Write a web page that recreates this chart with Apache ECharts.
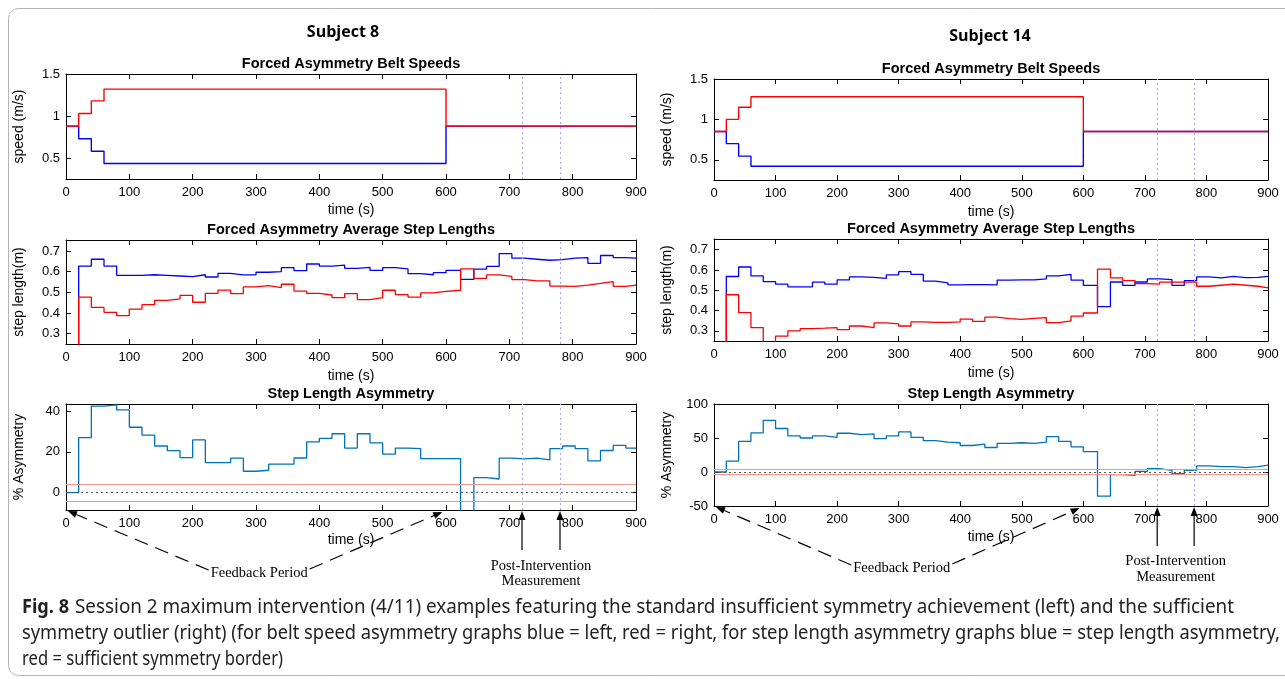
<!DOCTYPE html>
<html>
<head>
<meta charset="utf-8">
<script src="https://cdn.jsdelivr.net/npm/echarts@6/dist/echarts.min.js"></script>
<style>
  html, body { margin: 0; padding: 0; background: #fff; }
  #chart { width: 1285px; height: 679px; }
</style>
</head>
<body>
<div id="chart"></div>
<script>
// start time (s) of each averaged step segment
const segStart = [0, 20, 40, 60, 80, 100, 120, 140, 160, 180, 200, 220, 240, 260, 280, 300,
  320, 340, 360, 380, 400, 420, 440, 460, 480, 500, 520, 540, 560, 580, 600,
  623, 644, 664, 684, 704, 724, 744, 764, 784, 804, 824, 844, 864, 884]
const beltTime = [0, 20, 40, 60, 600]

// Subject 8
const s8BeltLeft = [0.88, 0.73, 0.58, 0.435, 0.88]
const s8BeltRight = [0.88, 1.03, 1.18, 1.32, 0.88]
const s8StepLeft = [0, 0.627, 0.66, 0.627, 0.582, 0.582, 0.585, 0.582, 0.579, 0.576, 0.585, 0.574,
  0.592, 0.584, 0.584, 0.597, 0.60, 0.619, 0.605, 0.637, 0.627, 0.631, 0.616, 0.621, 0.606, 0.619,
  0.613, 0.59, 0.585, 0.595, 0.606, 0.563, 0.612, 0.625, 0.687, 0.665, 0.66, 0.655, 0.658, 0.665,
  0.668, 0.64, 0.678, 0.668, 0.665]
const s8StepRight = [0, 0.477, 0.427, 0.403, 0.387, 0.419, 0.44, 0.461, 0.468, 0.485, 0.452, 0.495,
  0.511, 0.494, 0.526, 0.532, 0.523, 0.539, 0.506, 0.495, 0.487, 0.474, 0.494, 0.465, 0.474, 0.51,
  0.489, 0.477, 0.497, 0.505, 0.51, 0.613, 0.567, 0.584, 0.577, 0.561, 0.555, 0.555, 0.53, 0.529,
  0.535, 0.543, 0.552, 0.529, 0.535]
const s8Asym = [0, 27, 42.5, 43.1, 40.6, 32.1, 28.2, 22.9, 20.6, 17.2, 25.9, 14.7, 14.7, 16.9, 10.5,
  11, 14, 14, 17, 24.9, 26.6, 28.9, 21.9, 28.9, 24.4, 18.9, 21.9, 21.6, 16.7, 16.7, 16.7, -20, 7.4,
  6.7, 16.9, 16.6, 16.9, 16.1, 21.6, 22.9, 21.6, 15.6, 20.7, 23.2, 21.9]

// Subject 14
const s14BeltLeft = [0.85, 0.70, 0.545, 0.42, 0.85]
const s14BeltRight = [0.85, 1.0, 1.15, 1.28, 0.85]
const s14StepLeft = [0, 0.568, 0.615, 0.571, 0.543, 0.53, 0.517, 0.517, 0.54, 0.53, 0.551, 0.566,
  0.564, 0.559, 0.576, 0.592, 0.579, 0.545, 0.537, 0.527, 0.528, 0.528, 0.527, 0.55, 0.551, 0.551,
  0.556, 0.571, 0.579, 0.55, 0.524, 0.42, 0.541, 0.524, 0.541, 0.556, 0.553, 0.524, 0.548, 0.566,
  0.561, 0.569, 0.563, 0.564, 0.569]
const s14StepRight = [0, 0.478, 0.39, 0.316, 0.2, 0.274, 0.3, 0.311, 0.313, 0.316, 0.306, 0.324,
  0.316, 0.339, 0.334, 0.324, 0.344, 0.342, 0.342, 0.344, 0.358, 0.347, 0.368, 0.36, 0.357, 0.362,
  0.365, 0.341, 0.349, 0.373, 0.388, 0.604, 0.561, 0.548, 0.533, 0.53, 0.54, 0.54, 0.54, 0.52,
  0.525, 0.53, 0.525, 0.52, 0.512]
const s14Asym = [0, 16, 45, 57.6, 76, 64, 53, 50, 53, 51, 57, 55, 56, 49, 53, 59, 51, 46, 44, 43, 39,
  41, 36, 42, 43, 42, 44, 52, 45, 37, 30, -35.5, -4, -5, 1, 5, 2.5, -2.5, 2.5, 9, 8, 8, 6.5, 8, 10]

const measureTimes = [720, 780]
const symmetryBorder = 4

const FONT = '"Liberation Sans", Arial, sans-serif'
const SERIF = '"Liberation Serif", "Times New Roman", serif'

const panels = [
  { grid: { left: 66, top: 74, width: 570, height: 105 }, title: 'Forced Asymmetry Belt Speeds',
    yName: 'speed (m/s)', ymin: 0.25, ymax: 1.5, yticks: [0.5, 1, 1.5], nameGap: 24 },
  { grid: { left: 66, top: 240, width: 570, height: 104 }, title: 'Forced Asymmetry Average Step Lengths',
    yName: 'step length(m)', ymin: 0.25, ymax: 0.753, yticks: [0.3, 0.4, 0.5, 0.6, 0.7], nameGap: 25 },
  { grid: { left: 66, top: 404, width: 570, height: 106 }, title: 'Step Length Asymmetry',
    yName: '% Asymmetry', ymin: -8.5, ymax: 43.5, yticks: [0, 20, 40], nameGap: 23 },
  { grid: { left: 714, top: 79, width: 554, height: 101 }, title: 'Forced Asymmetry Belt Speeds',
    yName: 'speed (m/s)', ymin: 0.25, ymax: 1.5, yticks: [0.5, 1, 1.5], nameGap: 25 },
  { grid: { left: 714, top: 239, width: 554, height: 102 }, title: 'Forced Asymmetry Average Step Lengths',
    yName: 'step length(m)', ymin: 0.25, ymax: 0.753, yticks: [0.3, 0.4, 0.5, 0.6, 0.7], nameGap: 25 },
  { grid: { left: 714, top: 404, width: 554, height: 102 }, title: 'Step Length Asymmetry',
    yName: '% Asymmetry', ymin: -50, ymax: 100, yticks: [-50, 0, 50, 100], nameGap: 24 }
]

function stepData(times, vals) {
  const d = times.map((t, i) => [t, vals[i]])
  d.push([900, vals[vals.length - 1]])
  return d
}

const chart = echarts.init(document.getElementById('chart'))

const grids = [], xAxes = [], yAxes = [], series = []
const black = { color: '#000', width: 1 }

panels.forEach((p, gi) => {
  grids.push(Object.assign({ outerBoundsMode: 'none', containLabel: false }, p.grid))
  xAxes.push({
    gridIndex: gi, type: 'value', min: 0, max: 900, interval: 100, position: 'bottom',
    axisLine: { show: true, onZero: false, lineStyle: black },
    axisTick: { show: true, inside: true, length: 5, lineStyle: black },
    axisLabel: { color: '#000', fontSize: 13, fontFamily: FONT, margin: 7 },
    splitLine: { show: false },
    name: 'time (s)', nameLocation: 'middle', nameGap: p.nameGap,
    nameTextStyle: { color: '#000', fontSize: 14, fontFamily: FONT }
  })
  xAxes.push({
    gridIndex: gi, type: 'value', min: 0, max: 900, interval: 100, position: 'top',
    axisLine: { show: true, onZero: false, lineStyle: black },
    axisTick: { show: true, inside: true, length: 5, lineStyle: black },
    axisLabel: { show: false }, splitLine: { show: false }
  })
  yAxes.push({
    gridIndex: gi, type: 'value', min: p.ymin, max: p.ymax, position: 'left',
    axisLine: { show: true, onZero: false, lineStyle: black },
    axisTick: { show: true, inside: true, length: 5, lineStyle: black, customValues: p.yticks },
    axisLabel: { color: '#000', fontSize: 13, fontFamily: FONT, margin: 6, customValues: p.yticks },
    splitLine: { show: false },
    name: p.yName, nameLocation: 'middle', nameGap: 40, nameRotate: 90,
    nameTextStyle: { color: '#000', fontSize: 14, fontFamily: FONT }
  })
  yAxes.push({
    gridIndex: gi, type: 'value', min: p.ymin, max: p.ymax, position: 'right',
    axisLine: { show: true, onZero: false, lineStyle: black },
    axisTick: { show: true, inside: true, length: 5, lineStyle: black, customValues: p.yticks },
    axisLabel: { show: false }, splitLine: { show: false }
  })
})

const dotted = { color: '#a4a4f2', type: [2, 3], width: 1 }

const vLines = {
  silent: true, symbol: ['none', 'none'], label: { show: false },
  lineStyle: dotted,
  data: measureTimes.map(t => ({ xAxis: t }))
}

function line(gi, data, color, width, extra) {
  return Object.assign({
    type: 'line', xAxisIndex: gi * 2, yAxisIndex: gi * 2, data, step: 'end',
    showSymbol: false, symbol: 'none', silent: true,
    lineStyle: { color, width }, itemStyle: { color }
  }, extra || {})
}

function borderLines() {
  return {
    silent: true, symbol: ['none', 'none'], label: { show: false },
    data: [
      { yAxis: symmetryBorder, lineStyle: { color: '#f3968c', type: 'solid', width: 1.2 } },
      { yAxis: -symmetryBorder, lineStyle: { color: '#f3968c', type: 'solid', width: 1.2 } },
      { yAxis: 0, lineStyle: { color: '#555', type: [2, 3], width: 1 } },
      ...measureTimes.map(t => ({ xAxis: t, lineStyle: dotted }))
    ]
  }
}

const subjects = [
  { base: 0, beltL: s8BeltLeft, beltR: s8BeltRight, stepL: s8StepLeft, stepR: s8StepRight, asym: s8Asym },
  { base: 3, beltL: s14BeltLeft, beltR: s14BeltRight, stepL: s14StepLeft, stepR: s14StepRight, asym: s14Asym }
]

subjects.forEach(s => {
  series.push(line(s.base, stepData(beltTime, s.beltL), '#0000ff', 1.4, { markLine: vLines }))
  series.push(line(s.base, stepData(beltTime, s.beltR), '#ff0000', 1.4))
  series.push(line(s.base + 1, stepData(segStart, s.stepL), '#0000ff', 1.3, { markLine: vLines }))
  series.push(line(s.base + 1, stepData(segStart, s.stepR), '#ff0000', 1.3))
  series.push(line(s.base + 2, stepData(segStart, s.asym), '#0072bd', 1.3, { markLine: borderLines() }))
})

chart.setOption({
  animation: false,
  backgroundColor: '#fff',
  grid: grids, xAxis: xAxes, yAxis: yAxes, series
})

// ---- annotations, titles and caption ----
const ctx = document.createElement('canvas').getContext('2d')
function textW(text, font) { ctx.font = font; return ctx.measureText(text).width }
function txt(text, x, y, font, align, fill) {
  return { type: 'text', x, y, silent: true,
    style: { text, x: 0, y: 0, font, fill: fill || '#000', align: align || 'center', verticalAlign: 'middle' } }
}
function fitText(text, x, y, font, width, fill) {
  const w = textW(text, font)
  const el = txt(text, x, y, font, 'left', fill)
  el.scaleX = width / w
  return el
}
function arrow(x1, y1, x2, y2, dashed) {
  const a = Math.atan2(y2 - y1, x2 - x1)
  const L = 9, W = 3.5
  const bx = x2 - L * Math.cos(a), by = y2 - L * Math.sin(a)
  return [
    { type: 'line', silent: true, shape: { x1, y1, x2: bx, y2: by },
      style: { stroke: '#000', lineWidth: 1.2, lineDash: dashed ? [14, 8] : null } },
    { type: 'polygon', silent: true,
      shape: { points: [[x2, y2], [bx - W * Math.sin(a), by + W * Math.cos(a)], [bx + W * Math.sin(a), by - W * Math.cos(a)]] },
      style: { fill: '#000' } }
  ]
}

const g = []
g.push({ type: 'rect', silent: true, shape: { x: 8.5, y: 8.5, width: 1300, height: 667, r: 10 },
  style: { fill: null, stroke: '#b4b4b4', lineWidth: 1 } })
g.push(txt('Subject 8', 343, 32, 'bold 16px "Open Sans", sans-serif'))
g.push(txt('Subject 14', 990, 36, 'bold 16px "Open Sans", sans-serif'))

panels.forEach(p => {
  g.push(txt(p.title, p.grid.left + p.grid.width / 2, p.grid.top - 10, 'bold 14.5px ' + FONT))
})

const serifFont = '14.5px ' + SERIF
;[2, 5].forEach((gi, k) => {
  const p = panels[gi]
  const px = (x, y) => chart.convertToPixel({ xAxisIndex: gi * 2, yAxisIndex: gi * 2 }, [x, y])
  const bottom = px(0, p.ymin)[1]
  // Feedback period
  const c = px(305, p.ymin)[0]
  const ty = bottom + (k === 0 ? 63 : 62)
  const w = textW('Feedback Period', serifFont)
  g.push(txt('Feedback Period', c, ty, serifFont))
  g.push(...arrow(c - w / 2 - 2, ty - 3, px(0, 0)[0] + 2, bottom + 1, true))
  g.push(...arrow(c + w / 2 + 2, ty - 4, px(594, 0)[0], bottom + 2, true))
  // Post-intervention measurement
  measureTimes.forEach(t => {
    const x = px(t, 0)[0]
    g.push(...arrow(x, bottom + 40, x, bottom + 1, false))
  })
  const mc = px(750, 0)[0]
  g.push(txt('Post-Intervention', mc, bottom + (k === 0 ? 56 : 55), serifFont))
  g.push(txt('Measurement', mc, bottom + 71, serifFont))
})

// caption
const capFont = '19px "Noto Sans", sans-serif'
g.push(fitText('Fig. 8', 22, 608, 'bold 19px "Noto Sans", sans-serif', 47, '#222'))
g.push(fitText('Session 2 maximum intervention (4/11) examples featuring the standard insufficient symmetry achievement (left) and the sufficient',
  75, 608, capFont, 1159, '#222'))
g.push(fitText('symmetry outlier (right) (for belt speed asymmetry graphs blue = left, red = right, for step length asymmetry graphs blue = step length asymmetry,',
  22, 634, capFont, 1258, '#222'))
g.push(fitText('red = sufficient symmetry border)', 22, 660, capFont, 261, '#222'))

chart.setOption({ graphic: g })
</script>
</body>
</html>
